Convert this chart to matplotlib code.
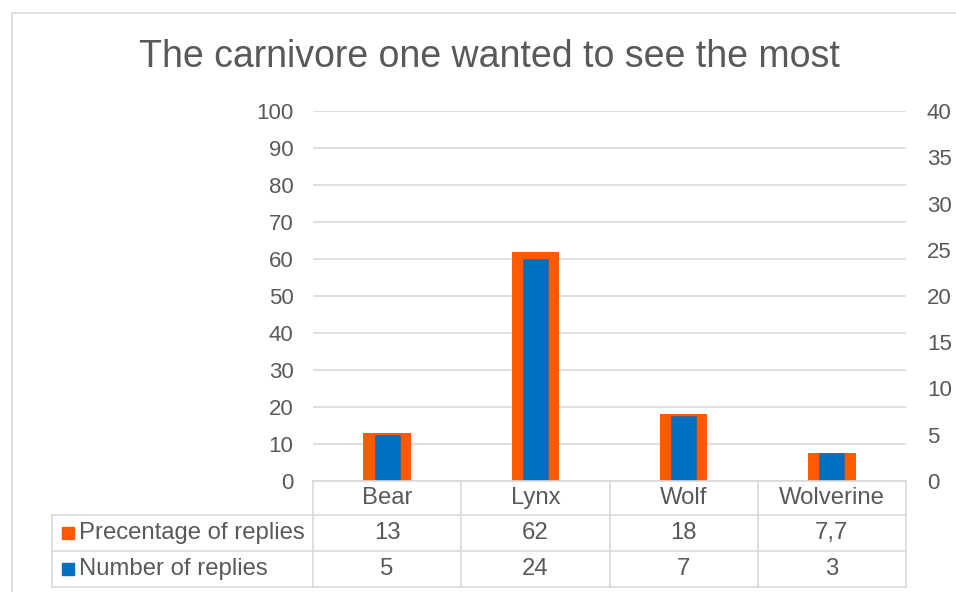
import matplotlib.pyplot as plt
import matplotlib.transforms as mtransforms
from matplotlib.patches import Rectangle
from matplotlib.lines import Line2D

plt.rcParams['font.family'] = ['Liberation Sans', 'DejaVu Sans']

animals = ['Bear', 'Lynx', 'Wolf', 'Wolverine']
percent = [13, 62, 18, 7.7]
replies = [5, 24, 7, 3]
percent_labels = ['13', '62', '18', '7,7']
replies_labels = ['5', '24', '7', '3']
series_names = ['Precentage of replies', 'Number of replies']

orange = '#FF5A00'
blue = '#0070C0'
text_col = '#595959'
line_col = '#D9D9D9'

W, H = 956, 592
fig = plt.figure(figsize=(W / 100, H / 100), dpi=100)
fig.patch.set_facecolor('white')


def px(x0, y0, x1, y1):
    # pixel box (top-left origin) -> figure fraction rect
    return [x0 / W, 1 - y1 / H, (x1 - x0) / W, (y1 - y0) / H]


# outer chart frame, runs past the right and bottom edges
fig.add_artist(Rectangle((12 / W, -0.1), 1.1, 1 - 13 / H + 0.1,
                         transform=fig.transFigure, fill=False,
                         edgecolor=line_col, lw=1.2))

fig.text(489 / W, 1 - 57 / H, 'The carnivore one wanted to see the most',
         ha='center', va='center', fontsize=27, color=text_col)

ax = fig.add_axes(px(313, 111, 906, 481))
ax2 = ax.twinx()

x = range(len(animals))
ax.bar(x, percent, width=0.32, color=orange, zorder=2)
ax2.bar(x, replies, width=0.17, color=blue, edgecolor='#3a5f80', lw=0.4, zorder=3)

ax.set_xlim(-0.5, len(animals) - 0.5)
ax.set_ylim(0, 100)
ax2.set_ylim(0, 40)
ax.set_yticks(range(0, 101, 10))
ax2.set_yticks(range(0, 41, 5))
ax.yaxis.grid(True, color=line_col, lw=1.2)
ax.set_axisbelow(True)
ax.set_xticks([])

for a in (ax, ax2):
    for s in a.spines.values():
        s.set_visible(False)
    a.tick_params(axis='y', length=0, labelsize=16, labelcolor=text_col)
ax.tick_params(axis='y', pad=14)
ax2.tick_params(axis='y', pad=15)

# data table under the plot: x in category units, y in figure fraction
tr = mtransforms.blended_transform_factory(ax.transData, fig.transFigure)
row_y = [481, 515, 551, 587]
n = len(animals)
left_edge = -0.5 - (313 - 52) / ((906 - 313) / n)


def fy(p):
    return 1 - p / H


lines = [([-0.5, n - 0.5], [row_y[0]] * 2)]
for y in row_y[1:]:
    lines.append(([left_edge, n - 0.5], [y] * 2))
for i in range(n + 1):
    lines.append(([i - 0.5] * 2, [row_y[0], row_y[-1]]))
lines.append(([left_edge] * 2, [row_y[1], row_y[-1]]))
for xs, ys in lines:
    fig.add_artist(Line2D(xs, [fy(v) for v in ys], transform=tr,
                          color=line_col, lw=1.2, clip_on=False))

rows = [animals, percent_labels, replies_labels]
for r, vals in enumerate(rows):
    yc = fy((row_y[r] + row_y[r + 1]) / 2)
    for i, v in enumerate(vals):
        fig.text(i, yc, v, transform=tr, ha='center', va='center',
                 fontsize=17.2, color=text_col)

for r, (name, col) in enumerate(zip(series_names, [orange, blue])):
    yc = fy((row_y[r + 1] + row_y[r + 2]) / 2)
    fig.add_artist(Rectangle((62 / W, yc - 6 / H), 12 / W, 12 / H,
                             transform=fig.transFigure, color=col))
    fig.text(79 / W, yc, name, ha='left', va='center',
             fontsize=17.2, color=text_col)

fig.savefig('out.png', dpi=100)
